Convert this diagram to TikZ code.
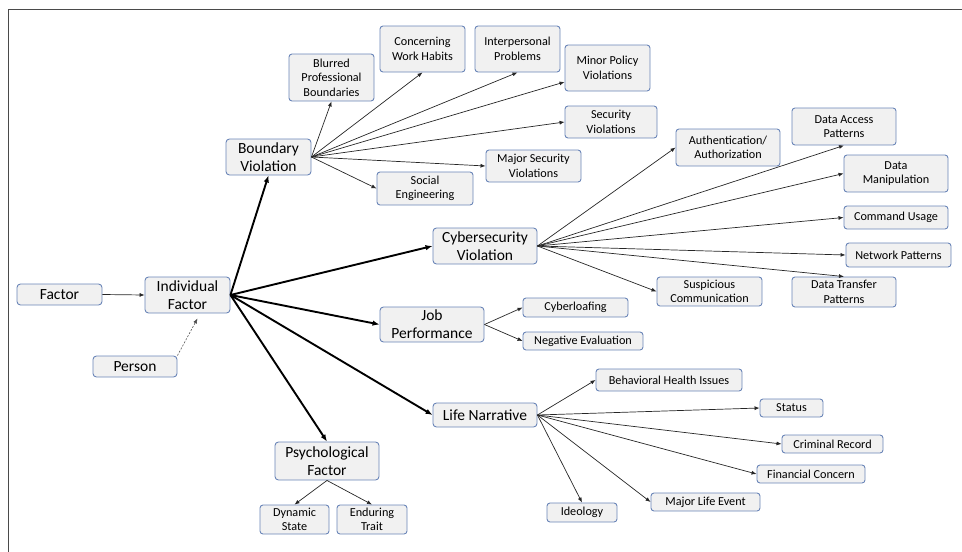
\documentclass[tikz,border=0pt]{standalone}
\usepackage{fontspec}
\setmainfont{Carlito}
\usetikzlibrary{arrows.meta}
\definecolor{boxline}{HTML}{6A85B8}
\definecolor{boxfill}{HTML}{F1F1F1}
\definecolor{frameg}{HTML}{4A4A4A}
\tikzset{
  topic/.style 2 args={rectangle, rounded corners=3.5pt, fill=boxfill, draw=boxline, line width=0.9pt,
               align=center, inner sep=1pt, minimum width=#1, minimum height=#2,
               font=\fontsize{15.5}{18}\selectfont},
  leaf/.style 2 args={rectangle, rounded corners=3pt, fill=boxfill, draw=boxline, line width=0.9pt,
               align=center, inner sep=1pt, minimum width=#1, minimum height=#2,
               font=\fontsize{12.2}{14.5}\selectfont},
  link/.style={-{Latex[length=5pt, width=4pt]}, line width=0.7pt, draw=black!85},
  mainlink/.style={-{Latex[length=7pt, width=5.5pt]}, line width=1.9pt, draw=black},
  weaklink/.style={-{Latex[length=5pt, width=4pt]}, line width=0.6pt, draw=black!70, dash pattern=on 2pt off 1.5pt},
}

\begin{document}
\begin{tikzpicture}[x=1pt, y=-1pt]
  \useasboundingbox (0,0) rectangle (962,552);
  \draw[frameg, line width=1pt] (8,552) -- (8,9) -- (962,9);

  % root and first level
  \node[topic={85pt}{21pt}] (fac) at (59.5,294.5) {Factor};
  \node[topic={85pt}{36pt}] (ind) at (187.5,295) {Individual\\Factor};
  \node[topic={84pt}{21pt}] (per) at (135,366.5) {Person};
  \node[topic={85pt}{36pt}] (bv) at (268.5,157) {Boundary\\Violation};
  \node[topic={104pt}{36pt}] (cyb) at (485,246) {Cybersecurity\\Violation};
  \node[topic={104pt}{35pt}] (job) at (432,324.5) {Job\\Performance};
  \node[topic={104pt}{24pt}] (life) at (485,415) {Life Narrative};
  \node[topic={104pt}{38pt}] (psy) at (327,461) {Psychological\\Factor};

  % boundary violation
  \node[leaf={85pt}{47pt}] (blur) at (331.5,77.5) {Blurred\\Professional\\Boundaries};
  \node[leaf={85pt}{46pt}] (cwh) at (422.5,49) {Concerning\\Work Habits};
  \node[leaf={85pt}{46pt}] (ipp) at (517.5,49) {Interpersonal\\Problems};
  \node[leaf={85pt}{46pt}] (mpv) at (607.5,68) {Minor Policy\\Violations};
  \node[leaf={92pt}{32pt}] (sv) at (611,122) {Security\\Violations};
  \node[leaf={95pt}{32pt}] (msv) at (533.5,166) {Major Security\\Violations};
  \node[leaf={96pt}{33pt}] (se) at (425,188.5) {Social\\Engineering};

  % cybersecurity violation
  \node[leaf={104pt}{37pt}] (auth) at (728,147.5) {Authentication/\\Authorization};
  \node[leaf={104pt}{37pt}] (dap) at (844,126.5) {Data Access\\Patterns};
  \node[leaf={104pt}{37pt}] (dm) at (896,173.5) {Data\\Manipulation};
  \node[leaf={104pt}{23pt}] (cu) at (896,217.5) {Command Usage};
  \node[leaf={105pt}{24pt}] (np) at (898.5,255) {Network Patterns};
  \node[leaf={104pt}{30pt}] (dtp) at (844,292) {Data Transfer\\Patterns};
  \node[leaf={105pt}{29pt}] (sc) at (709.5,291.5) {Suspicious\\Communication};

  % job performance
  \node[leaf={105pt}{19pt}] (cl) at (575.5,307.5) {Cyberloafing};
  \node[leaf={120pt}{18pt}] (ne) at (583,341) {Negative Evaluation};

  % life narrative
  \node[leaf={146pt}{22pt}] (bhi) at (669,380) {Behavioral Health Issues};
  \node[leaf={63pt}{18pt}] (st) at (791.5,408) {Status};
  \node[leaf={101pt}{18pt}] (cr) at (832.5,444) {Criminal Record};
  \node[leaf={108pt}{18pt}] (fc) at (811,474) {Financial Concern};
  \node[leaf={109pt}{18pt}] (mle) at (705.5,502) {Major Life Event};
  \node[leaf={70pt}{19pt}] (ideo) at (582,512.5) {Ideology};

  % psychological factor
  \node[leaf={69pt}{29pt}] (ds) at (294.5,519.5) {Dynamic\\State};
  \node[leaf={70pt}{29pt}] (et) at (372,519.5) {Enduring\\Trait};

  % connectors
  \draw[link] (fac.east) -- (ind.west);
  \draw[weaklink] (per.north east) -- ([xshift=10pt, yshift=-5pt]ind.south);
  \foreach \dst in {bv.south, cyb.west, job.west, life.west, psy.north}
    \draw[mainlink] (ind.east) -- (\dst);
  \foreach \dst in {blur.south, cwh.south, ipp.south, sv.west, msv.west, se.west}
    \draw[link] (bv.east) -- (\dst);
  \draw[link] (bv.east) -- ([yshift=-14pt]mpv.west);
  \foreach \dst in {auth.west, dap.south, dm.west, cu.west, np.west, dtp.north, sc.west}
    \draw[link] (cyb.east) -- (\dst);
  \foreach \dst in {cl.west, ne.west}
    \draw[link] (job.east) -- (\dst);
  \foreach \dst in {bhi.west, st.west, cr.west, fc.west, mle.west, ideo.north}
    \draw[link] (life.east) -- (\dst);
  \foreach \dst in {ds.north, et.north}
    \draw[link] (psy.south) -- (\dst);
\end{tikzpicture}
\end{document}
